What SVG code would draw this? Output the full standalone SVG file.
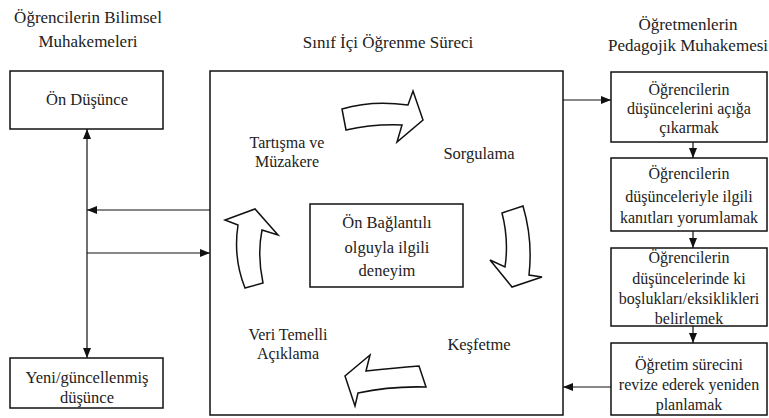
<svg xmlns="http://www.w3.org/2000/svg" width="769" height="418" viewBox="0 0 769 418" font-family="Liberation Serif, DejaVu Serif, serif">
<style>
text{fill:#222;text-anchor:middle}
.h{font-size:17px}
.t{font-size:16.5px}
.u{font-size:16px}
.s{font-size:16px}
.box{fill:#fff;stroke:#111;stroke-width:1.5}
.ln{fill:none;stroke:#111;stroke-width:1.2}
.ba{fill:#fff;stroke:#111;stroke-width:1.5;stroke-linejoin:miter}
</style>
<defs>
<marker id="ah" viewBox="0 0 10 10" refX="10" refY="5" markerWidth="10" markerHeight="10" markerUnits="userSpaceOnUse" orient="auto-start-reverse">
<path d="M0,1 L10,5 L0,9 Z" fill="#111"/>
</marker>
</defs>
<rect width="769" height="418" fill="#fff"/>
<text class="h" x="88" y="23">Öğrencilerin Bilimsel</text>
<text class="h" x="88" y="47">Muhakemeleri</text>
<text class="h" x="388" y="48">Sınıf İçi Öğrenme Süreci</text>
<text class="h" x="688" y="30">Öğretmenlerin</text>
<text class="h" x="688" y="51">Pedagojik Muhakemesi</text>

<g id="on-dusunce"><rect class="box" x="10" y="71" width="153" height="58"/><text class="t" x="87" y="105">Ön Düşünce</text></g>
<g id="yeni-dusunce"><rect class="box" x="10" y="358" width="153" height="50"/><text class="t" x="87" y="383">Yeni/güncellenmiş</text><text class="t" x="87" y="403">düşünce</text></g>

<g id="surec">
<rect class="box" x="210" y="71" width="353" height="344"/>
<text class="u" x="287" y="148">Tartışma ve</text>
<text class="u" x="287" y="167">Müzakere</text>
<text class="t" x="479" y="159">Sorgulama</text>
<text class="u" x="288" y="340">Veri Temelli</text>
<text class="u" x="288" y="359">Açıklama</text>
<text class="t" x="479" y="350">Keşfetme</text>
<path class="ba" d="M342,109 Q372,100 408,105 L413,91 L423,120 L397,142 L402,125 Q372,124 346,130 Z"/>
<path class="ba" d="M502,213 L523,206 Q533,240 529,275 L542,277 L512,287 L490,260 L505,267 Q509,240 502,213 Z"/>
<path class="ba" d="M419,366 L426,387 Q390,386 358,393 L355,406 L345,376 L370,355 L366,371 Q395,368 419,366 Z"/>
<path class="ba" d="M245,288 L263,283 Q257,255 262,230 L278,235 L255,209 L225,220 L238,225 Q233,258 245,288 Z"/>
</g>
<g id="on-baglantili"><rect class="box" x="310" y="204" width="153" height="83"/><text class="t" x="387" y="228">Ön Bağlantılı</text><text class="t" x="387" y="253">olguyla ilgili</text><text class="t" x="387" y="276">deneyim</text></g>

<g id="r1"><rect class="box" x="611" y="72" width="156" height="70"/><text class="s" x="689" y="95">Öğrencilerin</text><text class="s" x="689" y="114">düşüncelerini açığa</text><text class="s" x="689" y="133">çıkarmak</text></g>
<g id="r2"><rect class="box" x="611" y="158" width="156" height="73"/><text class="s" x="689" y="179">Öğrencilerin</text><text class="s" x="689" y="202">düşünceleriyle ilgili</text><text class="s" x="689" y="223">kanıtları yorumlamak</text></g>
<g id="r3"><rect class="box" x="611" y="248" width="156" height="78"/><text class="s" x="689" y="263">Öğrencilerin</text><text class="s" x="689" y="284">düşüncelerinde ki</text><text class="s" x="689" y="304">boşlukları/eksiklikleri</text><text class="s" x="689" y="324">belirlemek</text></g>
<g id="r4"><rect class="box" x="611" y="343" width="156" height="72"/><text class="s" x="689" y="370">Öğretim sürecini</text><text class="s" x="689" y="390">revize ederek yeniden</text><text class="s" x="689" y="410">planlamak</text></g>

<g id="connectors">
<path class="ln" d="M87,240 V129" marker-end="url(#ah)"/>
<path class="ln" d="M87,240 V358" marker-end="url(#ah)"/>
<path class="ln" d="M210,210 H87" marker-end="url(#ah)"/>
<path class="ln" d="M87,253 H210" marker-end="url(#ah)"/>
<path class="ln" d="M563,100 H611" marker-end="url(#ah)"/>
<path class="ln" d="M611,387 H563" marker-end="url(#ah)"/>
<path class="ln" d="M693,142 V158" marker-end="url(#ah)"/>
<path class="ln" d="M693,231 V248" marker-end="url(#ah)"/>
<path class="ln" d="M693,326 V343" marker-end="url(#ah)"/>
</g>
</svg>
